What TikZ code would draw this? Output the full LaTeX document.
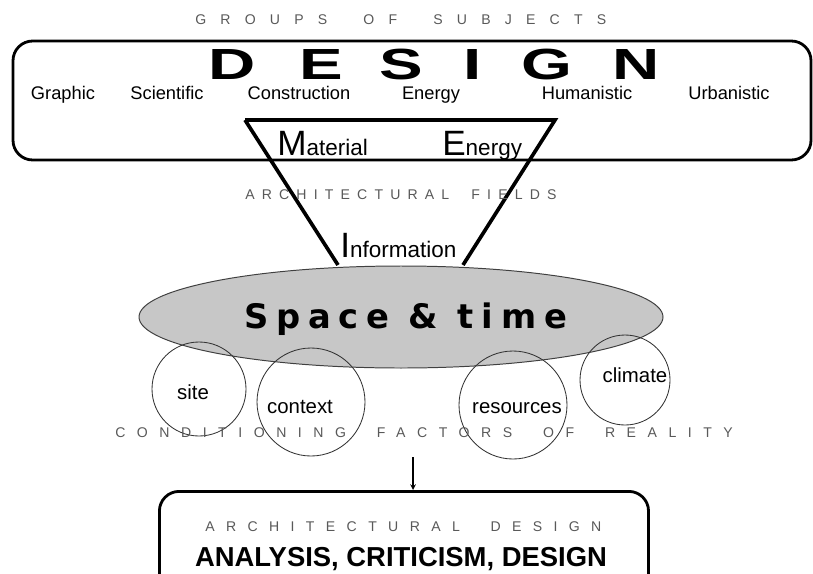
\documentclass[tikz,border=0pt]{standalone}
\usepackage{fontspec}
\usepackage{graphicx}
\setmainfont{Liberation Sans}
\newfontfamily\verdana{DejaVu Sans}
\usetikzlibrary{positioning}

\begin{document}
\begin{tikzpicture}[x=0.025cm, y=-0.025cm]
    % styles
    \tikzstyle{frame}=[draw, line width=2pt, rounded corners=14pt]
    \tikzstyle{funnel}=[line width=2.6pt, line join=miter]
    \tikzstyle{factor}=[draw=black!80, line width=0.6pt]
    \tikzstyle{subject}=[anchor=base, inner sep=0pt, font=\fontsize{13}{13}\selectfont]
    \tikzstyle{bigletter}=[anchor=base, inner sep=0pt, font=\fontsize{31}{31}\selectfont\bfseries]
    \tikzstyle{initial}=[anchor=base west, inner sep=0pt]
    \tikzset{spaced/.style={anchor=west, inner sep=0pt, text=black!65,
        font=\fontsize{10}{12}\selectfont\addfontfeature{LetterSpace=#1}}}
    \newcommand{\initword}[2]{{\fontsize{25}{25}\selectfont #1}{\fontsize{16}{16}\selectfont #2}}

    \clip (0,0) rectangle (813,573);

    % groups of subjects
    \node[spaced=101] (groups) at (195,20) {GROUPS\ \ OF\ \ SUBJECTS};
    \draw[frame] (13,41) rectangle (811,160);
    \foreach \l/\x in {D/232, E/321, S/401, I/473, G/547, N/636}
        \node[bigletter] (design\l) at (\x,79) {\scalebox{1.5}[1]{\l}};
    \foreach \s/\x in {Graphic/63, Scientific/167, Construction/299, Energy/431, Humanistic/587, Urbanistic/729}
        \node[subject] (subj\s) at (\x,99) {\s};

    % architectural fields
    \draw[funnel] (245,120) -- (555,120) -- (463,265);
    \draw[funnel] (245,120) -- (338,265);
    \node[initial] (material) at (277,155) {\initword{M}{aterial}};
    \node[initial] (energy) at (442,155) {\initword{E}{nergy}};
    \node[spaced=51] (fields) at (245,195) {ARCHITECTURAL\ \ FIELDS};
    \node[initial] (information) at (340,257) {\initword{I}{nformation}};

    % space and time
    \draw[fill=black!22, draw=black!75, line width=0.7pt] (401,317) ellipse [x radius=262, y radius=51];
    \node[anchor=base west, inner sep=0pt, font=\verdana\bfseries\fontsize{24}{24}\selectfont\addfontfeature{LetterSpace=23}]
        (spacetime) at (244,328) {Space \& time};

    % conditioning factors
    \draw[factor] (199,389) circle (47);
    \draw[factor] (311,402) circle (54);
    \draw[factor] (513,405) circle (54);
    \draw[factor] (625,380) circle (45);
    \node[font=\fontsize{14.5}{14.5}\selectfont] (site) at (193,392) {site};
    \node[font=\fontsize{14.5}{14.5}\selectfont] (context) at (300,407) {context};
    \node[font=\fontsize{14.5}{14.5}\selectfont] (resources) at (517,408) {resources};
    \node[font=\fontsize{14.5}{14.5}\selectfont] (climate) at (635,375) {climate};
    \node[spaced=82] (reality) at (115,433) {CONDITIONING\ \ FACTORS\ \ OF\ \ REALITY};

    % architectural design
    \coordinate (drop) at (413,457);
    \node[frame, anchor=north west, minimum width=12.225cm, minimum height=2.75cm] (outcome) at (158,490) {};
    \draw[->, >=stealth, line width=0.8pt] (drop) -- (drop |- outcome.north);
    \node[spaced=81] (archdesign) at (205,527) {ARCHITECTURAL\ \ DESIGN};
    \node[anchor=base, inner sep=0pt, font=\fontsize{19.5}{20}\selectfont\bfseries] (analysis) at (401,566) {ANALYSIS, CRITICISM, DESIGN};
\end{tikzpicture}
\end{document}
